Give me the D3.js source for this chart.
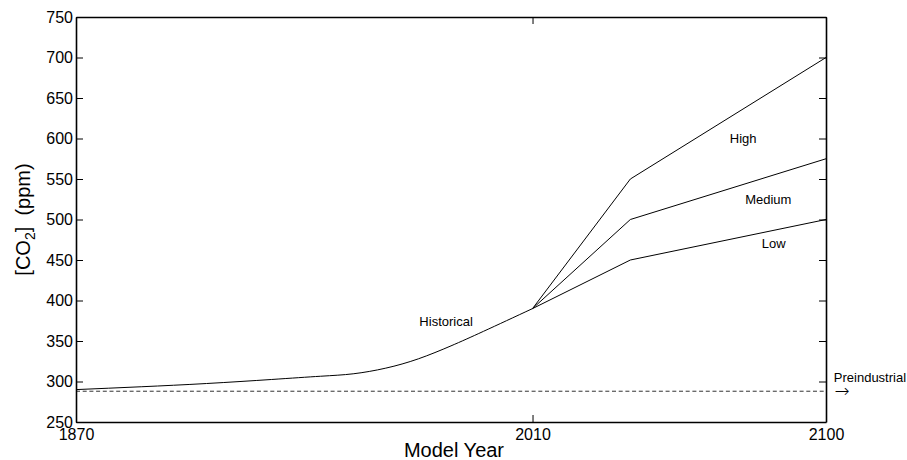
<!DOCTYPE html>
<html>
<head>
<meta charset="utf-8">
<script src="https://cdn.jsdelivr.net/npm/d3@7"></script>
<style>
  html, body { margin: 0; padding: 0; background: #fff; }
  svg { display: block; font-family: "Liberation Sans", Arial, Helvetica, sans-serif; }
</style>
</head>
<body>
<svg id="chart" width="907" height="460"></svg>
<script>
// Atmospheric CO2 concentration: historical record and three future scenarios
const historicalYears = [1870, 1890,  1910,  1930,  1945,  1955,  1965,  1975, 1985, 1995, 2010];
const historicalPpm   = [290,  293.5, 297.5, 302.5, 306.5, 309.5, 316.5, 328,  344,  362,  390];

const scenarioYears = [2010, 2040, 2100];
const scenarioNames = ["High", "Medium", "Low"];
const highPpm   = [390, 550, 700];
const mediumPpm = [390, 500, 575];
const lowPpm    = [390, 450, 500];

const preindustrialPpm = 288;

const xTickYears = [1870, 2010, 2100];
const yTickValues = [250, 300, 350, 400, 450, 500, 550, 600, 650, 700, 750];

// Label anchor points, in data units (year, ppm)
const labelText  = ["Historical", "High", "Medium", "Low"];
const labelYears = [1975.3, 2070.5, 2075.2, 2080.3];
const labelPpm   = [369, 594, 519, 464.5];

const svg = d3.select("#chart");
const margin = { left: 76, right: 81, top: 17, bottom: 38 };
const W = 907, H = 460;

const x = d3.scaleLinear().domain([1870, 2100]).range([margin.left, W - margin.right]);
const y = d3.scaleLinear().domain([250, 750]).range([H - margin.bottom, margin.top]);

const tickLen = 7;

// Preindustrial reference level (dashed)
svg.append("line")
  .attr("x1", x(1870)).attr("x2", x(2100))
  .attr("y1", y(preindustrialPpm)).attr("y2", y(preindustrialPpm))
  .attr("stroke", "#333").attr("stroke-width", 1)
  .attr("stroke-dasharray", "4,2.7");

// Historical curve
const smooth = d3.line().x(d => x(d[0])).y(d => y(d[1])).curve(d3.curveNatural);
svg.append("path")
  .datum(d3.zip(historicalYears, historicalPpm))
  .attr("d", smooth)
  .attr("fill", "none").attr("stroke", "#000").attr("stroke-width", 1);

// Scenario branches
const straight = d3.line().x(d => x(d[0])).y(d => y(d[1]));
[highPpm, mediumPpm, lowPpm].forEach(vals => {
  svg.append("path")
    .datum(d3.zip(scenarioYears, vals))
    .attr("d", straight)
    .attr("fill", "none").attr("stroke", "#000").attr("stroke-width", 1);
});

// Axes: bottom and left carry labels, top and right mirror the ticks
const axisBottom = d3.axisBottom(x).tickValues(xTickYears).tickFormat(d3.format("d"))
  .tickSizeInner(-tickLen).tickSizeOuter(0).tickPadding(7);
const axisTop = d3.axisTop(x).tickValues(xTickYears).tickFormat("")
  .tickSizeInner(-tickLen).tickSizeOuter(0);
const axisLeft = d3.axisLeft(y).tickValues(yTickValues).tickFormat(d3.format("d"))
  .tickSizeInner(-tickLen).tickSizeOuter(0).tickPadding(3);
const axisRight = d3.axisRight(y).tickValues(yTickValues).tickFormat("")
  .tickSizeInner(-tickLen).tickSizeOuter(0);

function styleAxis(g) {
  g.select(".domain").attr("stroke", "#000").attr("stroke-width", 1.6);
  g.selectAll(".tick line").attr("stroke", "#000").attr("stroke-width", 1);
  g.selectAll(".tick text").attr("fill", "#000").attr("font-size", 16)
    .attr("font-family", "'Liberation Sans', Arial, sans-serif");
}

svg.append("g").attr("transform", `translate(0,${y(250)})`).call(axisBottom).call(styleAxis);
svg.append("g").attr("transform", `translate(0,${y(750)})`).call(axisTop).call(styleAxis);
svg.append("g").attr("transform", `translate(${x(1870)},0)`).call(axisLeft).call(styleAxis);
svg.append("g").attr("transform", `translate(${x(2100)},0)`).call(axisRight).call(styleAxis);

// Axis titles
svg.append("text")
  .attr("x", (x(1870) + x(2100)) / 2 + 3).attr("y", 457)
  .attr("text-anchor", "middle").attr("font-size", 20).attr("fill", "#000")
  .text("Model Year");

const yTitle = svg.append("text")
  .attr("transform", `translate(30,${(y(250) + y(750)) / 2}) rotate(-90)`)
  .attr("text-anchor", "middle").attr("font-size", 20).attr("fill", "#000");
yTitle.append("tspan").text("[CO");
yTitle.append("tspan").attr("font-size", 14).attr("dy", 5).text("2");
yTitle.append("tspan").attr("dy", -5).text("]\u00a0\u00a0(ppm)");

// Curve labels
labelText.forEach((t, i) => {
  svg.append("text")
    .attr("x", x(labelYears[i])).attr("y", y(labelPpm[i]))
    .attr("font-size", 13).attr("fill", "#000")
    .text(t);
});

// Preindustrial annotation outside the plot
svg.append("text")
  .attr("x", x(2102.4)).attr("y", y(300))
  .attr("font-size", 13).attr("fill", "#000")
  .text("Preindustrial");
svg.append("text")
  .attr("x", x(2102.6)).attr("y", y(preindustrialPpm) + 6)
  .attr("font-size", 18).attr("fill", "#000")
  .attr("font-family", "'DejaVu Sans', sans-serif")
  .attr("font-weight", 200)
  .text("\u2192");
</script>
</body>
</html>
